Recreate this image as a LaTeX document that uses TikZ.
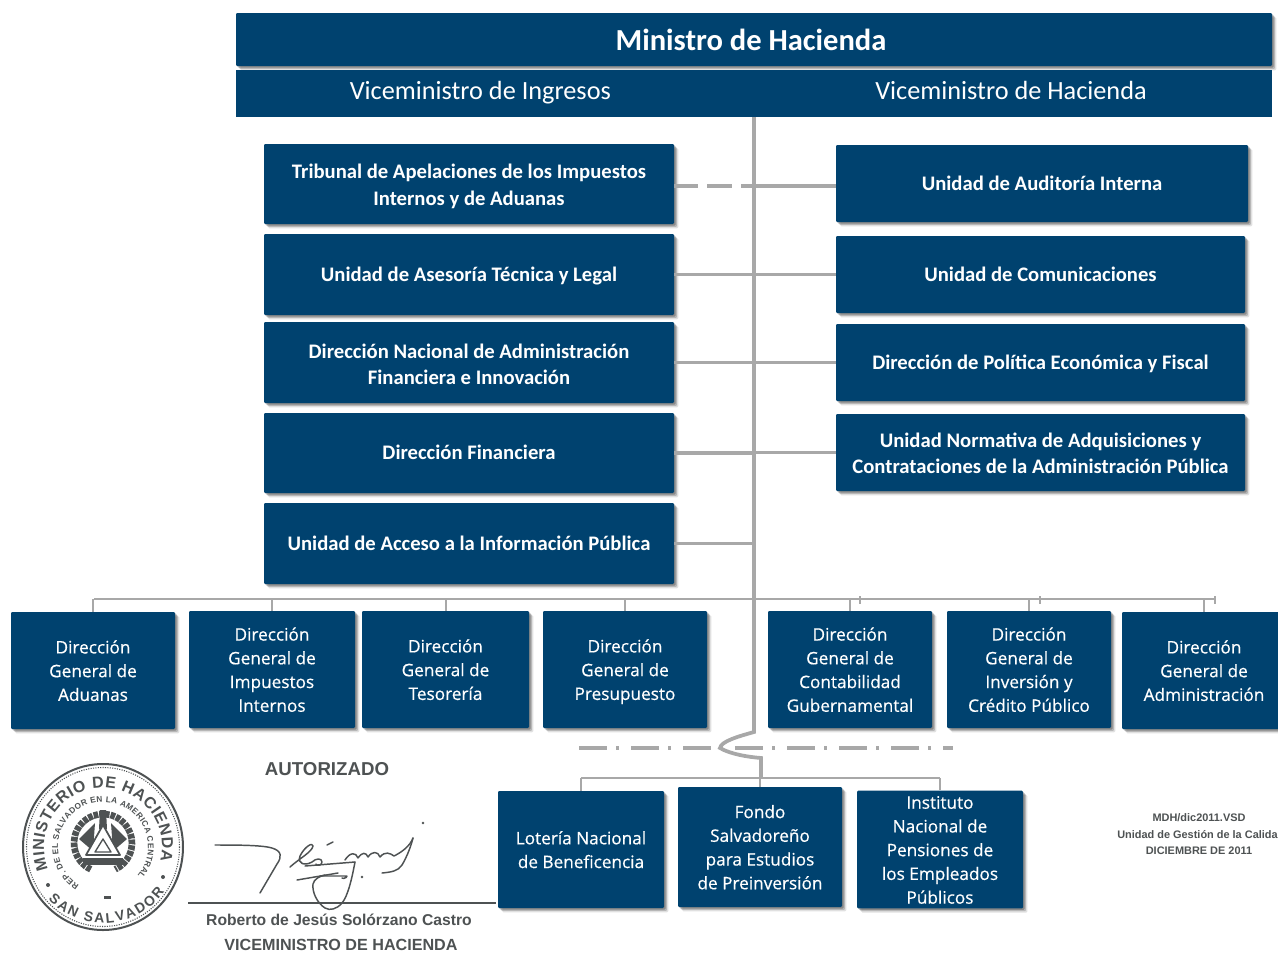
\documentclass[tikz,border=0pt]{standalone}
\usepackage{fontspec}
\setmainfont{Carlito}
\newfontfamily\lowfont[RawFeature={embolden=0.5}]{Open Sans}
\newfontfamily\stampfont{Liberation Sans}
\usetikzlibrary{shadows,decorations.text,calc}
\definecolor{navy}{HTML}{00426F}
\definecolor{conn}{HTML}{A8A8A8}
\definecolor{ink}{HTML}{4E5253}
\newcommand{\lowstart}{\rule{0pt}{13.5pt}}
\newcommand{\lowend}{\rule[-3.5pt]{0pt}{3.5pt}}
\tikzset{
  x=0.75pt,y=-0.75pt,
  softshadow/.style={
    drop shadow={shadow xshift=3.2pt,shadow yshift=-3.2pt,fill=black,opacity=.12},
    drop shadow={shadow xshift=2.2pt,shadow yshift=-2.2pt,fill=black,opacity=.18},
    drop shadow={shadow xshift=1.2pt,shadow yshift=-1.2pt,fill=black,opacity=.25}},
  navybox/.style={fill=navy,text=white,rounded corners=0.8pt,inner sep=0pt,align=center,softshadow},
  topbox/.style={navybox,font=\fontsize{22.9}{24}\selectfont\bfseries},
  vicebox/.style={fill=navy,text=white,inner sep=0pt,text height=13pt,text depth=4pt,font=\fontsize{19.7}{22}\selectfont},
  midbox/.style={navybox,font=\fontsize{15.5}{19.6}\selectfont\bfseries,
    execute at begin node={\rule{0pt}{12.5pt}},execute at end node={\rule[-2.5pt]{0pt}{2.5pt}}},
  lowbox/.style={navybox,font=\fontsize{12.9}{17.8}\lowfont\selectfont},
  trunk/.style={draw=conn,line width=2.8pt},
  branch/.style={draw=conn,line width=2.6pt},
  heavy branch/.style={draw=conn,line width=3pt},
  thin branch/.style={draw=conn,line width=1.5pt},
  cutline/.style={draw=conn,line width=3.4pt,dash pattern=on 21pt off 7pt on 2.2pt off 8.8pt},
  stroke/.style={draw=ink,line width=1.1pt,line cap=round,line join=round},
  authortext/.style={text=ink,inner sep=0pt,font=\stampfont\bfseries\fontsize{14}{16}\selectfont},
  signertext/.style={text=ink,inner sep=0pt},
  filetext/.style={text=ink,inner sep=0pt,font=\stampfont\bfseries\fontsize{8.2}{10}\selectfont},
}
\newcommand{\placebox}[6]{\node[#1,minimum width={(#4-#2)*0.75pt},minimum height={(#5-#3)*0.75pt}] (#6) at ({(#2+#4)/2},{(#3+#5)/2})}
\begin{document}
\begin{tikzpicture}
\useasboundingbox (0,0) rectangle (1278,954);
\fill[white] (0,0) rectangle (1278,954);

% connectors first (they run below the boxes)
\coordinate (busL) at (94,599);
\coordinate (busR) at (1215,599);
\coordinate (trunkA) at (754,117);
\coordinate (trunkB) at (754,599);
\coordinate (trunkC) at (754,732);
\coordinate (wig) at (720,748);
\coordinate (trunkD) at (761,758);
\coordinate (trunkE) at (761,778);
\coordinate (bus2L) at (581,778);
\coordinate (bus2R) at (940,778);
\coordinate (cutL) at (579,748);
\coordinate (cutR) at (953,748);

\draw[cutline] (cutL) -- (cutR);
\draw[trunk] (trunkA) -- (trunkB) -- (trunkC) .. controls (740,736) and (721,741) .. (wig) .. controls (730,754) and (748,757) .. (trunkD) -- (trunkE);
\draw[thin branch] (busL) -- (busR);
\draw[thin branch] (bus2L) -- (bus2R);

% header
\placebox{topbox}{236}{13}{1272}{66}{min}{\hspace{-4.5pt}Ministro de Hacienda};
\placebox{vicebox}{236}{70}{738}{117}{vi}{\hspace{-10pt}Viceministro de Ingresos};
\placebox{vicebox}{738}{70}{1272}{117}{vh}{\hspace{9pt}Viceministro de Hacienda};

% left column
\placebox{midbox}{264}{144}{674}{224}{l1}{\rule{0pt}{14.5pt}Tribunal de Apelaciones de los Impuestos\\Internos y de Aduanas};
\placebox{midbox}{264}{234}{674}{315}{l2}{Unidad de Asesoría Técnica y Legal};
\placebox{midbox}{264}{322}{674}{403}{l3}{\rule{0pt}{16pt}Dirección Nacional de Administración\\Financiera e Innovación};
\placebox{midbox}{264}{413}{674}{493}{l4}{Dirección Financiera};
\placebox{midbox}{264}{503}{674}{584}{l5}{Unidad de Acceso a la Información Pública};

% right column
\placebox{midbox}{836}{145}{1248}{222}{r1}{Unidad de Auditoría Interna};
\placebox{midbox}{836}{236}{1245}{313}{r2}{Unidad de Comunicaciones};
\placebox{midbox}{836}{324}{1245}{401}{r3}{Dirección de Política Económica y Fiscal};
\placebox{midbox}{836}{414}{1245}{491}{r4}{\rule{0pt}{14.5pt}Unidad Normativa de Adquisiciones y\\Contrataciones de la Administración Pública};

% general directions
\placebox{lowbox}{11}{612}{175}{729}{d1}{\lowstart Dirección\\General de\\Aduanas\lowend};
\placebox{lowbox}{189}{611}{355}{728}{d2}{\lowstart Dirección\\General de\\Impuestos\\Internos\lowend};
\placebox{lowbox}{362}{611}{529}{728}{d3}{\lowstart Dirección\\General de\\Tesorería\lowend};
\placebox{lowbox}{543}{611}{707}{728}{d4}{\lowstart Dirección\\General de\\Presupuesto\lowend};
\placebox{lowbox}{768}{611}{932}{728}{d5}{\lowstart Dirección\\General de\\Contabilidad\\Gubernamental\lowend};
\placebox{lowbox}{947}{611}{1111}{728}{d6}{\lowstart Dirección\\General de\\Inversión y\\Crédito Público\lowend};
\placebox{lowbox}{1122}{612}{1286}{729}{d7}{\lowstart Dirección\\General de\\Administración\lowend};

% autonomous bodies
\placebox{lowbox}{498}{791}{664}{908}{a1}{\lowstart Lotería Nacional\\de Beneficencia\lowend};
\placebox{lowbox}{678}{787}{842}{907}{a2}{\lowstart Fondo\\Salvadoreño\\para Estudios\\de Preinversión\lowend};
\placebox{lowbox}{857}{791}{1023}{908}{a3}{\lowstart Instituto\\Nacional de\\Pensiones de\\los Empleados\\Públicos\lowend};

% horizontal connectors
\coordinate (dashA) at (698,185.5);
\coordinate (dashB) at (707,185.5);
\coordinate (dashC) at (732,185.5);
\coordinate (dashD) at (741,185.5);
\draw[heavy branch] (l1.east |- dashA) -- (dashA);
\draw[heavy branch] (dashB) -- (dashC);
\draw[heavy branch] (dashD) -- (r1.west |- dashD);
\draw[branch] (l2.east) -- (l2.east -| trunkA);
\draw[branch] (l3.east) -- (l3.east -| trunkA);
\draw[branch] (l4.east) -- (l4.east -| trunkA);
\draw[branch] (l5.east) -- (l5.east -| trunkA);
\draw[branch] (r2.west) -- (r2.west -| trunkA);
\draw[branch] (r3.west) -- (r3.west -| trunkA);
\draw[branch] (r4.west) -- (r4.west -| trunkA);

% drops
\foreach \n in {d1,d2,d3,d4,d5,d6,d7}{
  \draw[thin branch] (\n.north) -- (\n.north |- busL);
}
\foreach \n in {a1,a2,a3}{
  \draw[thin branch] (\n.north) -- (\n.north |- bus2L);
}
\foreach \t in {860,1040,1215}{
  \draw[thin branch] (\t,596) -- (\t,604);
}

% stamp
\begin{scope}[shift={(103,847)}]
  \draw[ink,line width=1.5pt] (0,0) circle[x radius=80,y radius=83];
  \draw[ink,line width=.8pt,densely dotted] (0,0) circle[x radius=76.5,y radius=79.5];
  \path[decorate,decoration={text along path,text align={fit to path},
    text={|\fontsize{12}{12}\stampfont\bfseries\color{ink}|MINISTERIO DE HACIENDA}}]
    (158:59) arc[start angle=158,end angle=374,radius=59];
  \path[decorate,decoration={text along path,text align={fit to path},
    text={|\fontsize{6.2}{8}\stampfont\bfseries\color{ink}|REP. DE EL SALVADOR EN LA AMERICA CENTRAL}}]
    (122:45) arc[start angle=122,end angle=400,radius=45];
  \path[decorate,decoration={text along path,text align={fit to path},
    text={|\fontsize{10.5}{12}\stampfont\bfseries\color{ink}|SAN SALVADOR}}]
    (136:76) arc[start angle=136,end angle=36,radius=76];
  % coat of arms
  \draw[ink,line width=5pt,dash pattern=on 3.5pt off 0.8pt] (0,-4) ++(115:29) arc[start angle=115,end angle=425,radius=29];
  \fill[ink] (-24,-8) -- (-8,-24) -- (-10,4) -- cycle;
  \fill[ink] (24,-8) -- (8,-24) -- (10,4) -- cycle;
  \fill[ink] (-3,-37) -- (3,-37) -- (4,-18) -- (-4,-18) -- cycle;
  \fill[white] (0,-22) -- (17,8) -- (-17,8) -- cycle;
  \draw[ink,line width=1.3pt,line join=round] (0,-22) -- (17,8) -- (-17,8) -- cycle;
  \draw[ink,line width=1pt,line join=round] (0,-8) -- (8,5) -- (-8,5) -- cycle;
  \fill[ink] (-20,11) rectangle (20,18);
  \fill[ink] (1,49) rectangle (8,51.5);
  \fill[ink] (-55,38) circle[radius=2];
  \fill[ink] (60,30) circle[radius=2];
\end{scope}

% signature
\node[authortext] (auth) at (327,769) {AUTORIZADO};
\coordinate (ruleL) at (188,903);
\coordinate (ruleR) at (496,903);
\draw[ink,line width=1.6pt] (ruleL) -- (ruleR);
\draw[stroke] (215,845) .. controls (235,845) and (262,845) .. (272,848) .. controls (282,851) and (282,857) .. (277,864) -- (260,893);
\draw[stroke] (290,867) .. controls (300,858) and (312,852) .. (313,846) .. controls (313,842) and (305,846) .. (300,856) .. controls (297,864) and (305,866) .. (312,862) .. controls (316,858) and (322,858) .. (322,862) .. controls (322,866) and (316,866) .. (316,864);
\draw[stroke] (305,866) -- (355,862);
\draw[stroke] (327,845) -- (333,842);
\draw[stroke] (345,860) .. controls (350,852) and (356,852) .. (358,858) .. controls (362,852) and (366,852) .. (368,857) .. controls (372,851) and (378,851) .. (380,857) .. controls (385,851) and (390,853) .. (394,856) .. controls (402,852) and (410,846) .. (413,838);
\draw[stroke] (413,838) .. controls (410,850) and (405,860) .. (402,865) .. controls (398,871) and (392,872) .. (382,873);
\draw[stroke] (297,880) -- (338,873);
\draw[stroke] (320,876) -- (345,876) .. controls (350,875) and (344,880) .. (342,878);
\draw[stroke] (355,862) .. controls (352,878) and (348,896) .. (342,903) .. controls (337,909) and (330,911) .. (325,908) .. controls (317,903) and (312,892) .. (313,884) .. controls (314,879) and (320,876) .. (325,875);
\fill[ink] (362,877) circle[radius=1.4];
\fill[ink] (423,823) circle[radius=1.4];
\node[signertext,font=\stampfont\bfseries\fontsize{11.75}{14}\selectfont] (name) at (339,920) {Roberto de Jesús Solórzano Castro};
\node[signertext,font=\stampfont\bfseries\fontsize{12.1}{14}\selectfont] (role) at (341,945) {VICEMINISTRO DE HACIENDA};

% file note
\node[filetext] (fa) at (1199,817.5) {MDH/dic2011.VSD};
\node[filetext,anchor=west] (fb) at (1117,834.5) {Unidad de Gestión de la Calidad};
\node[filetext] (fc) at (1199,851) {DICIEMBRE DE 2011};
\end{tikzpicture}
\end{document}
